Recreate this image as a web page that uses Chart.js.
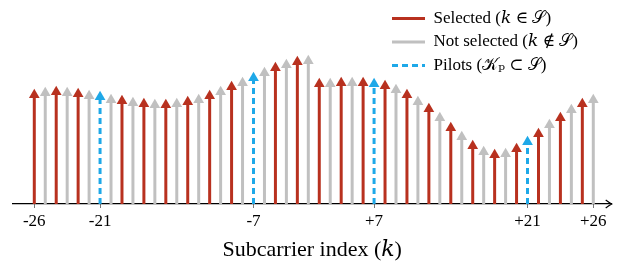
<!DOCTYPE html>
<html>
<head>
<meta charset="utf-8">
<script src="https://cdn.jsdelivr.net/npm/chart.js@4.4.1/dist/chart.umd.min.js"></script>
<style>
  html, body { margin: 0; padding: 0; background: #fff; }
  #wrap { width: 621px; height: 263px; }
</style>
</head>
<body>
<div id="wrap"><canvas id="stems" width="621" height="263"></canvas></div>
<script>
// stem heights per subcarrier slot, left to right (-26 ... +26, no DC)
const amplitude = [
  1.09, 1.11, 1.12, 1.11, 1.10, 1.08, 1.07, 1.04, 1.03, 1.01, 1.00, 0.99, 0.99,
  1.00, 1.02, 1.04, 1.08, 1.12, 1.17, 1.21, 1.26, 1.31, 1.36, 1.39, 1.42, 1.43,
  1.20, 1.20, 1.21, 1.21, 1.21, 1.20, 1.18, 1.14, 1.09, 1.02, 0.95, 0.86, 0.76,
  0.67, 0.58, 0.52, 0.49, 0.50, 0.55, 0.62, 0.70, 0.79, 0.86, 0.94, 1.00, 1.04
];
// S = selected, N = not selected, P = pilot
const role = ('SNSNSNPNSNSNSNSNSNSNPNSNSN' + 'SNSNSPSNSNSNSNSNSNSPSNSNSN').split('');

const tickSlots = [0, 6, 20, 31, 45, 51];
const tickLabels = ['-26', '-21', '-7', '+7', '+21', '+26'];

const seriesNames = {
  S: 'Selected (\u{1D458} \u2208 \u{1D4AE})',
  N: 'Not selected (\u{1D458} \u2209 \u{1D4AE})',
  P: 'Pilots (\u{1D4A6}\u209A \u2282 \u{1D4AE})'
};
const seriesColors = { S: '#b8311f', N: '#c0c0c0', P: '#1ea8e8' };

const serif = "'Liberation Serif', 'DejaVu Serif', serif";

function stemData(r) {
  const pts = [];
  amplitude.forEach((v, i) => {
    if (role[i] !== r) return;
    pts.push({ x: i, y: 0 }, { x: i, y: v }, { x: i, y: null });
  });
  return pts;
}

function makeSeries(r) {
  return {
    label: seriesNames[r],
    data: stemData(r),
    showLine: true,
    borderColor: seriesColors[r],
    backgroundColor: seriesColors[r],
    borderWidth: 3,
    borderDash: r === 'P' ? [6, 4] : [],
    pointStyle: 'triangle',
    pointRadius: ctx => (ctx.raw && ctx.raw.y > 0 ? 6.2 : 0),
    pointBorderWidth: 0,
    pointBackgroundColor: seriesColors[r]
  };
}

// legend sits in the top right corner of the plot
const legendCorner = {
  id: 'legendCorner',
  afterLayout(chart) {
    const lg = chart.legend;
    lg.left = 385.5;
    lg.right = lg.left + lg.width;
    lg.top = 3.5;
    lg.bottom = lg.top + lg.height;
  }
};

// arrow at the end of the x axis
const axisArrow = {
  id: 'axisArrow',
  afterDraw(chart) {
    const ctx = chart.ctx;
    const x = chart.chartArea.right;
    const y = chart.scales.x.top;
    ctx.save();
    ctx.strokeStyle = '#000';
    ctx.lineWidth = 1.2;
    ctx.beginPath();
    ctx.moveTo(x - 6, y - 4);
    ctx.quadraticCurveTo(x - 2, y - 1, x, y);
    ctx.quadraticCurveTo(x - 2, y + 1, x - 6, y + 4);
    ctx.stroke();
    ctx.restore();
  }
};

Chart.defaults.color = '#000';
Chart.defaults.font.family = serif;

new Chart(document.getElementById('stems'), {
  type: 'scatter',
  data: { datasets: ['S', 'N', 'P'].map(makeSeries) },
  options: {
    responsive: false,
    animation: false,
    events: [],
    layout: { padding: { left: 12.7, right: 9.3, top: 0, bottom: 0 } },
    scales: {
      x: {
        type: 'linear',
        min: -1.97,
        max: 52.68,
        afterBuildTicks: scale => {
          scale.ticks = tickSlots.map(v => ({ value: v }));
        },
        afterFit: scale => {
          scale.height = 59;
        },
        ticks: {
          autoSkip: false,
          maxRotation: 0,
          padding: 3,
          font: { size: 17 },
          callback: v => tickLabels[tickSlots.indexOf(v)]
        },
        grid: { drawOnChartArea: false, drawTicks: true, tickLength: 4, color: '#777' },
        border: { color: '#000', width: 1.2 },
        title: {
          display: true,
          text: 'Subcarrier index (\u{1D458})',
          font: { size: 22 },
          padding: { top: 4, bottom: 0 }
        }
      },
      y: { display: false, min: 0, max: 2.04 }
    },
    plugins: {
      tooltip: { enabled: false },
      legend: {
        position: 'chartArea',
        align: 'start',
        labels: {
          usePointStyle: true,
          pointStyle: 'line',
          pointStyleWidth: 33,
          boxWidth: 33,
          padding: 6.5,
          font: { size: 17 },
          generateLabels: chart => chart.data.datasets.map((ds, i) => ({
            text: ds.label,
            datasetIndex: i,
            fillStyle: ds.borderColor,
            strokeStyle: ds.borderColor,
            fontColor: '#000',
            lineWidth: 3,
            lineCap: 'butt',
            lineDash: ds.borderDash,
            pointStyle: 'line',
            hidden: false
          }))
        }
      }
    }
  },
  plugins: [legendCorner, axisArrow]
});
</script>
</body>
</html>
